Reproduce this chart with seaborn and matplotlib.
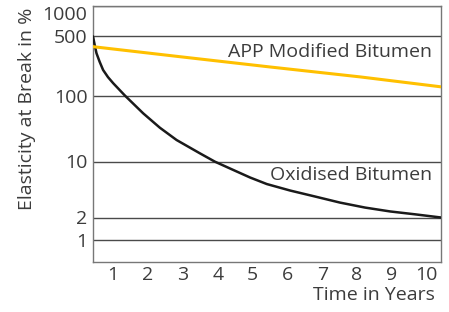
import numpy as np
import pandas as pd
import matplotlib
matplotlib.use('Agg')
import matplotlib.pyplot as plt
import seaborn as sns
from matplotlib.ticker import FixedLocator, FixedFormatter, NullLocator

# Data (years, elasticity at break in %)
app_years = [0.42, 2.92, 5.50, 8.09, 10.41]
app_values = [375, 286, 217, 166, 127]

oxi_years = [0.42, 0.47, 0.52, 0.61, 0.71, 0.85, 1.0, 1.34, 1.86, 2.34, 2.82, 3.49, 3.92,
             4.45, 4.93, 5.41, 6.08, 6.80, 7.51, 8.23, 8.95, 9.67, 10.41]
oxi_values = [495, 390, 314, 250, 200, 165, 140, 100, 54, 32.6, 21.2, 13.3, 9.95,
              7.83, 6.31, 5.23, 4.34, 3.65, 3.07, 2.66, 2.38, 2.19, 2.0]

y_ticks = [1, 2, 10, 100, 500, 1000]
x_ticks = [1, 2, 3, 4, 5, 6, 7, 8, 9, 10]

# The printed axis is only roughly logarithmic: spacing of the gridlines
# differs between decades, so use a piecewise log scale to match it
scale_vals = np.log10([0.5, 1, 2, 10, 100, 500, 1000])
scale_pos = np.array([0, 22.6, 44.8, 100.8, 166.6, 226.3, 256.6])


def fwd(v):
    v = np.clip(np.asarray(v, dtype=float), 1e-6, None)
    return np.interp(np.log10(v), scale_vals, scale_pos)


def inv(p):
    return 10 ** np.interp(np.asarray(p, dtype=float), scale_pos, scale_vals)


sns.set_style("white")
plt.rcParams['font.family'] = ['Open Sans', 'DejaVu Sans']

text_color = '#3c3c3c'

fig = plt.figure(figsize=(4.49, 3.12), dpi=100)
ax = fig.add_axes([93 / 449, (312 - 262.3) / 312, (441 - 93) / 449, (262.3 - 5.7) / 312])

df_app = pd.DataFrame({'Years': app_years, 'Elasticity': app_values})
df_oxi = pd.DataFrame({'Years': oxi_years, 'Elasticity': oxi_values})

ax.set_yscale('function', functions=(fwd, inv))

for y in y_ticks:
    ax.axhline(y, color='#4a4a4a', lw=1.0, zorder=1)

sns.lineplot(data=df_oxi, x='Years', y='Elasticity', color='#1a1a1a', lw=1.8, ax=ax, zorder=3)
sns.lineplot(data=df_app, x='Years', y='Elasticity', color='#FFC000', lw=2.2, ax=ax, zorder=3)

ax.set_xlim(0.42, 10.41)
ax.set_ylim(0.5, 1000)

ax.yaxis.set_major_locator(FixedLocator(y_ticks))
ax.yaxis.set_major_formatter(FixedFormatter([str(t) for t in y_ticks]))
ax.yaxis.set_minor_locator(NullLocator())
ax.set_xticks(x_ticks)
ax.set_xticklabels([str(t) for t in x_ticks])
ax.tick_params(axis='both', length=0, labelsize=14, colors=text_color)
ax.tick_params(axis='y', pad=4)
ax.tick_params(axis='x', pad=3)
# top label sits just below the frame edge in the reference
ax.get_yticklabels()[-1].set_verticalalignment('top')

for s in ax.spines.values():
    s.set_color('#777777')
    s.set_linewidth(1.0)

ax.set_xlabel('')
ax.set_ylabel('')
fig.text(27.5 / 449, 1 - 108.5 / 312, 'Elasticity at Break in %', rotation=90,
         ha='center', va='center', fontsize=14, color=text_color)
fig.text(435 / 449, 1 - 295 / 312, 'Time in Years', ha='right', va='center', fontsize=14, color=text_color)

ax.text(10.15, 327, 'APP Modified Bitumen', ha='right', va='center', fontsize=14, color=text_color)
ax.text(10.15, 6.78, 'Oxidised Bitumen', ha='right', va='center', fontsize=14, color=text_color)

fig.savefig('out.png', dpi=100)
